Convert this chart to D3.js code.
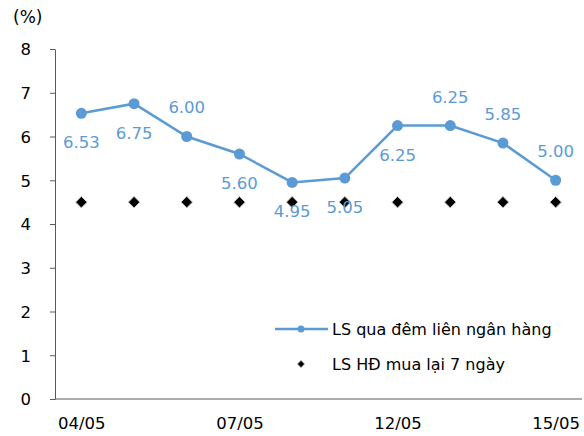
<!DOCTYPE html>
<meta charset="utf-8">
<style>
body{margin:0;background:white}
text{font-family:"DejaVu Sans",Verdana,sans-serif}
.axis path,.axis line{stroke:#595959}
.axis text{fill:#000;font-size:16.5px}
</style>
<svg width="584" height="436"></svg>
<script src="https://cdn.jsdelivr.net/npm/d3@7/dist/d3.min.js"></script>
<script>
// data
var dates = ["04/05", "05/05", "06/05", "07/05", "08/05", "11/05", "12/05", "13/05", "14/05", "15/05"];
var shownDates = ["04/05", "07/05", "12/05", "15/05"];
var overnight = [6.53, 6.75, 6.00, 5.60, 4.95, 5.05, 6.25, 6.25, 5.85, 5.00];
var repo7d = [4.5, 4.5, 4.5, 4.5, 4.5, 4.5, 4.5, 4.5, 4.5, 4.5];
var labelPos = ["below", "below", "above", "below", "below", "below", "below", "above", "above", "above"];
var yTicks = [0, 1, 2, 3, 4, 5, 6, 7, 8];
var seriesNames = ["LS qua đêm liên ngân hàng", "LS HĐ mua lại 7 ngày"];

var blue = "#5b9bd5";
var svg = d3.select("svg");
var idx = d3.range(dates.length);

var x = d3.scalePoint().domain(dates).range([55, 582]).padding(0.5);
var y = d3.scaleLinear().domain([0, 8]).range([399, 49]);

// y axis
var yAxis = svg.append("g").attr("class", "axis")
    .attr("transform", "translate(55,0)")
    .call(d3.axisLeft(y).tickValues(yTicks).tickSize(5).tickPadding(19).tickSizeOuter(0));
yAxis.selectAll("text").attr("dy", "0.36em");

// x axis - no ticks
var xAxis = svg.append("g").attr("class", "axis")
    .attr("transform", "translate(0,399)")
    .call(d3.axisBottom(x).tickValues(shownDates).tickSize(0).tickPadding(18).tickSizeOuter(0));
xAxis.select(".domain").attr("d", "M55,0H582");

svg.append("text").attr("x", 13).attr("y", 23)
    .style("font-size", "17px").text("(%)");

// 7-day repo diamonds
var diamond = d3.symbol().type(d3.symbolDiamond2).size(85);
svg.append("g").selectAll("path")
    .data(idx).enter().append("path")
    .attr("d", diamond)
    .attr("transform", function(i) { return "translate(" + x(dates[i]) + "," + y(repo7d[i]) + ")"; })
    .attr("fill", "#000").attr("stroke", "#d0d0d0").attr("stroke-width", 1);

// overnight line
var line = d3.line().x(function(i) { return x(dates[i]); }).y(function(i) { return y(overnight[i]); });
svg.append("path").datum(idx)
    .attr("d", line).attr("fill", "none")
    .attr("stroke", blue).attr("stroke-width", 2.5);

svg.append("g").selectAll("circle")
    .data(idx).enter().append("circle")
    .attr("cx", function(i) { return x(dates[i]); })
    .attr("cy", function(i) { return y(overnight[i]); })
    .attr("r", 5.5).attr("fill", blue);

svg.append("g").selectAll("text")
    .data(idx).enter().append("text")
    .attr("x", function(i) { return x(dates[i]); })
    .attr("y", function(i) { return y(overnight[i]) + (labelPos[i] == "above" ? -29 : 29); })
    .attr("dy", "0.36em")
    .attr("text-anchor", "middle")
    .style("font-size", "16.5px").style("fill", blue)
    .text(function(i) { return overnight[i].toFixed(2); });

// legend
var lg = svg.append("g");
lg.append("line").attr("x1", 275).attr("x2", 328).attr("y1", 329).attr("y2", 329)
    .attr("stroke", blue).attr("stroke-width", 2.5);
lg.append("circle").attr("cx", 301).attr("cy", 329).attr("r", 3.5).attr("fill", blue);
lg.append("text").attr("x", 332).attr("y", 329).attr("dy", "0.36em")
    .style("font-size", "16px").text(seriesNames[0]);
lg.append("path").attr("d", d3.symbol().type(d3.symbolDiamond2).size(35))
    .attr("transform", "translate(301,364)")
    .attr("fill", "#000").attr("stroke", "#d0d0d0");
lg.append("text").attr("x", 332).attr("y", 364).attr("dy", "0.36em")
    .style("font-size", "16px").text(seriesNames[1]);
</script>
